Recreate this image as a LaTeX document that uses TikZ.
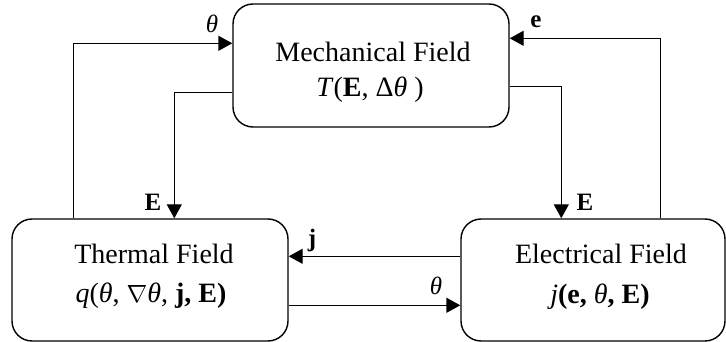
\documentclass[tikz,border=0pt]{standalone}
\usepackage{fontspec}
\setmainfont{Liberation Serif}
\usetikzlibrary{arrows.meta}
\begin{document}
\begin{tikzpicture}[x=1pt,y=-1pt,
  field/.style={draw, line width=1.4pt, rounded corners=20pt, inner sep=0pt},
  boxtext/.style={anchor=base, inner sep=0pt, font=\fontsize{28}{34}\selectfont},
  flowlabel/.style={inner sep=0pt, font=\fontsize{25}{30}\selectfont},
  flow/.style={line width=1.4pt, -{Triangle[length=14pt,width=15pt]}}]
\useasboundingbox (0,0) rectangle (726,342);

% the three coupled fields
\node[field, minimum width=276pt, minimum height=123pt] (mech) at (371,65.5) {};
\node[field, minimum width=276pt, minimum height=122pt] (therm) at (150,280) {};
\node[field, minimum width=264pt, minimum height=122pt] (elec) at (593,280) {};

\node[boxtext] (mech1) at (373,62) {Mechanical Field};
\node[boxtext] (mech2) at (370,97) {\textit{T}(\textbf{E}, Δ\textit{θ} )};
\node[boxtext] (therm1) at (154,263) {Thermal Field};
\node[boxtext] (therm2) at (151,302) {\textit{q}(\textit{θ}, $\nabla$\textit{θ}, \textbf{j, E)}};
\node[boxtext] (elec1) at (601,263) {Electrical Field};
\node[boxtext] (elec2) at (600,303) {\textit{j}\textbf{(e,} \textit{θ}\textbf{, E)}};

% couplings between the fields
\draw[flow] ([xshift=62pt]therm.north west) |- ([yshift=-40pt]mech.north west);
\draw[flow] ([yshift=-89pt]mech.north west) -| ([xshift=163pt]therm.north west);
\draw[flow] ([xshift=200pt]elec.north west) |- ([yshift=-35pt]mech.north east);
\draw[flow] ([yshift=-83pt]mech.north east) -| ([xshift=101pt]elec.north west);
\draw[flow] ([yshift=-38pt]elec.north west) coordinate (jstart) -- (jstart -| therm.east);
\draw[flow] ([yshift=-87pt]therm.north east) coordinate (tstart) -- (tstart -| elec.west);

% coupling labels
\node[flowlabel] (lth1) at (212,24) {\textit{θ}};
\node[flowlabel] (le) at (536,22) {\textbf{e}};
\node[flowlabel] (lE1) at (153,202) {\textbf{E}};
\node[flowlabel] (lE2) at (585,202) {\textbf{E}};
\node[flowlabel] (lj) at (312,240) {\textbf{j}};
\node[flowlabel] (lth2) at (436,286) {\textit{θ}};
\end{tikzpicture}
\end{document}
